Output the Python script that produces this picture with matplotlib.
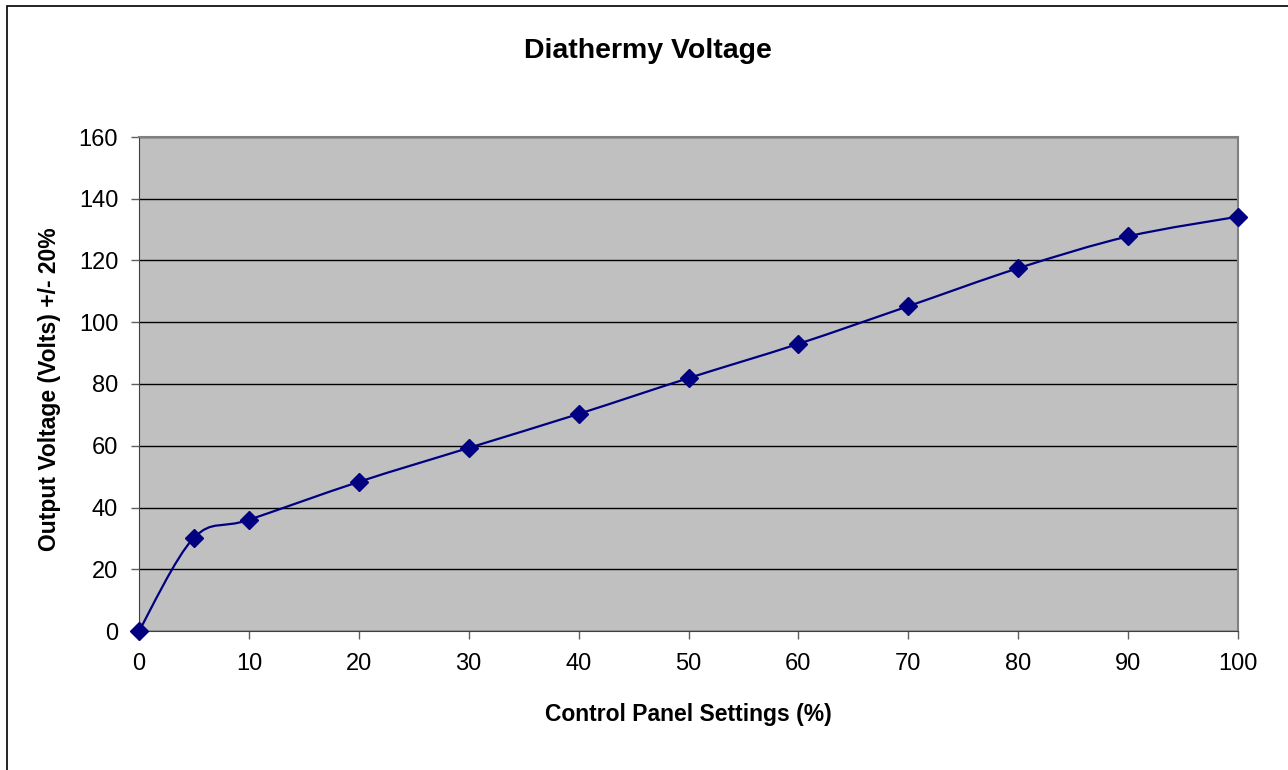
import numpy as np
import matplotlib.pyplot as plt
from matplotlib.path import Path
from matplotlib.patches import PathPatch, Rectangle

plt.rcParams['font.family'] = ['Liberation Sans', 'DejaVu Sans']

# data
settings = [0, 5, 10, 20, 30, 40, 50, 60, 70, 80, 90, 100]
volts = [0, 30.2, 36.0, 48.3, 59.3, 70.3, 81.9, 93.0, 105.2, 117.5, 127.8, 134.2]

fig = plt.figure(figsize=(12.88, 7.7), dpi=100)
ax = fig.add_axes([139/1288, 1-631/770, (1238-139)/1288, (631-137)/770])
ax.set_facecolor('#c0c0c0')

# smooth line like excel (bezier through points)
x = np.array(settings, dtype=float)
y = np.array(volts, dtype=float)
xp = np.concatenate([[x[0]], x, [x[-1]]])
yp = np.concatenate([[y[0]], y, [y[-1]]])
verts = [(x[0], y[0])]
codes = [Path.MOVETO]
for i in range(1, len(x)):
    c1 = (xp[i] + (xp[i+1] - xp[i-1]) / 6, yp[i] + (yp[i+1] - yp[i-1]) / 6)
    c2 = (xp[i+1] - (xp[i+2] - xp[i]) / 6, yp[i+1] - (yp[i+2] - yp[i]) / 6)
    verts += [c1, c2, (xp[i+1], yp[i+1])]
    codes += [Path.CURVE4] * 3
ax.add_patch(PathPatch(Path(verts, codes), fc='none', ec='#000080', lw=1.6, zorder=3))
ax.plot(settings, volts, ls='none', marker='D', ms=9, color='#000080', zorder=4, clip_on=False)

ax.set_xlim(0, 100)
ax.set_ylim(0, 160)
ax.set_xticks(range(0, 101, 10))
ax.set_yticks(range(0, 161, 20))
ax.yaxis.grid(True, color='black', lw=1)
ax.set_axisbelow(True)
ax.tick_params(labelsize=17, direction='out', length=6, width=1, color='#606060')
ax.tick_params(axis='x', pad=10)
ax.tick_params(axis='y', pad=9)
for s in ['top', 'right']:
    ax.spines[s].set_color('#808080')
    ax.spines[s].set_linewidth(1.5)
for s in ['left', 'bottom']:
    ax.spines[s].set_color('#404040')

fig.text(648/1288, 1-58/770, 'Diathermy Voltage', ha='center', va='baseline', fontsize=20.5, fontweight='bold')
fig.text(688/1288, 1-721/770, 'Control Panel Settings (%)', ha='center', va='baseline', fontsize=16.5, fontweight='bold')
fig.text(50/1288, 1-389/770, 'Output Voltage (Volts) +/- 20%', ha='center', va='center', rotation=90, fontsize=16.5, fontweight='bold')

# outer frame
fig.patches.append(Rectangle((7/1288, -0.01), 1.01, 1-6/770+0.01, transform=fig.transFigure,
                             fill=False, ec='black', lw=1.2))

fig.savefig('out.png', dpi=100)
